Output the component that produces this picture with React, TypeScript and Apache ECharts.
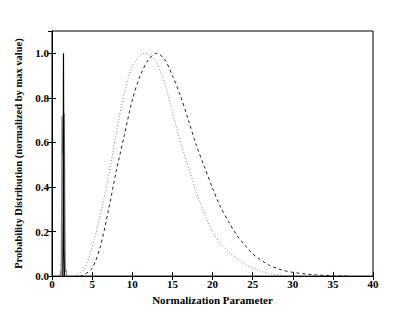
import React, { useEffect, useRef } from "react";
import * as echarts from "echarts";

const xTicks = [0, 5, 10, 15, 20, 25, 30, 35, 40];
const yTicks = [0, 0.2, 0.4, 0.6, 0.8, 1.0];

const dottedX = [2.5, 3, 4, 5, 6, 7, 8, 9, 10, 11, 11.6, 12, 13, 14, 15, 16, 17, 18, 19, 20, 21, 22, 23, 24, 25, 26, 27, 28, 29, 30, 32];
const dottedY = [0, 0.004, 0.03, 0.13, 0.27, 0.44, 0.64, 0.82, 0.94, 0.99, 1.0, 0.995, 0.96, 0.87, 0.74, 0.6, 0.49, 0.375, 0.28, 0.2, 0.145, 0.11, 0.08, 0.055, 0.036, 0.022, 0.012, 0.006, 0.003, 0.001, 0];

const dashedX = [3.5, 4, 5, 6, 7, 8, 9, 10, 11, 12, 13, 14, 15, 16, 17, 18, 19, 20, 21, 22, 23, 24, 25, 26, 27, 28, 29, 30, 31, 32, 33, 34, 35, 36, 37];
const dashedY = [0, 0.006, 0.035, 0.13, 0.29, 0.47, 0.63, 0.79, 0.9, 0.97, 1.0, 0.975, 0.9, 0.81, 0.7, 0.585, 0.49, 0.395, 0.31, 0.245, 0.185, 0.14, 0.1, 0.073, 0.05, 0.035, 0.024, 0.017, 0.012, 0.008, 0.005, 0.003, 0.0015, 0.0005, 0];

const grayX = [1.0, 1.08, 1.14, 1.2, 1.25, 1.33, 1.42, 1.53, 1.6, 1.66, 1.74, 1.82];
const grayY = [0, 0.025, 0, 0.3, 0.72, 0.55, 0.58, 0.73, 0.3, 0.02, 0.03, 0];

const blackX = [1.34, 1.39, 1.43, 1.46, 1.5, 1.55];
const blackY = [0, 0.25, 1.0, 0.6, 0.12, 0];

const pairs = (xs: number[], ys: number[]) => xs.map((x, i) => [x, ys[i]]);

const font = "Liberation Serif";

export default function App() {
  const ref = useRef<HTMLDivElement>(null);
  useEffect(() => {
    const chart = echarts.init(ref.current!, null, { renderer: "svg" });
    const labelStyle = { fontFamily: font, fontWeight: "bold" as const, fontSize: 11, color: "#000" };
    chart.setOption({
      animation: false,
      backgroundColor: "#fff",
      grid: { left: 52, right: 42, top: 31, bottom: 32, show: true, borderColor: "#000", borderWidth: 1 },
      xAxis: [
        {
          type: "value",
          min: xTicks[0],
          max: xTicks[xTicks.length - 1],
          interval: 5,
          name: "Normalization Parameter",
          nameLocation: "middle",
          nameGap: 12,
          nameTextStyle: { ...labelStyle },
          axisLine: { show: true, lineStyle: { color: "#000", width: 1 } },
          axisTick: { show: true, inside: true, length: 4, lineStyle: { color: "#000" } },
          axisLabel: { ...labelStyle, margin: 2 },
          splitLine: { show: false },
        },
        {
          type: "value",
          position: "top",
          min: xTicks[0],
          max: xTicks[xTicks.length - 1],
          interval: 5,
          axisLine: { show: true, lineStyle: { color: "#000", width: 1 } },
          axisTick: { show: true, inside: true, length: 4, lineStyle: { color: "#000" } },
          axisLabel: { show: false },
          splitLine: { show: false },
        },
      ],
      yAxis: [
        {
          type: "value",
          min: 0,
          max: 1.1,
          interval: 0.2,
          name: "Probability Distribution (normalized by max value)",
          nameLocation: "middle",
          nameGap: 22,
          nameTextStyle: { ...labelStyle, fontSize: 10.5 },
          axisLine: { show: true, lineStyle: { color: "#000", width: 1 } },
          axisTick: { show: true, inside: true, length: 4, lineStyle: { color: "#000" } },
          axisLabel: {
            ...labelStyle,
            margin: 3,
            showMaxLabel: false,
            formatter: (v: number) => (yTicks.some((t) => Math.abs(t - v) < 1e-6) ? v.toFixed(1) : ""),
          },
          splitLine: { show: false },
        },
        {
          type: "value",
          position: "right",
          min: 0,
          max: 1.1,
          interval: 0.2,
          axisLine: { show: true, lineStyle: { color: "#000", width: 1 } },
          axisTick: { show: true, inside: true, length: 4, lineStyle: { color: "#000" } },
          axisLabel: { show: false },
          splitLine: { show: false },
        },
      ],
      series: [
        {
          type: "line",
          data: pairs(dottedX, dottedY),
          showSymbol: false,
          smooth: 0.3,
          lineStyle: { color: "#888", width: 1, type: [1, 2] },
        },
        {
          type: "line",
          data: pairs(dashedX, dashedY),
          showSymbol: false,
          smooth: 0.3,
          lineStyle: { color: "#222", width: 1, type: [3, 3] },
        },
        {
          type: "line",
          data: pairs(grayX, grayY),
          showSymbol: false,
          lineStyle: { color: "#808080", width: 1.2 },
        },
        {
          type: "line",
          data: pairs(blackX, blackY),
          showSymbol: false,
          lineStyle: { color: "#000", width: 1.2 },
        },
      ],
    });
    return () => chart.dispose();
  }, []);
  return <div ref={ref} style={{ position: "absolute", left: 0, top: 0, width: 415, height: 310 }} />;
}
